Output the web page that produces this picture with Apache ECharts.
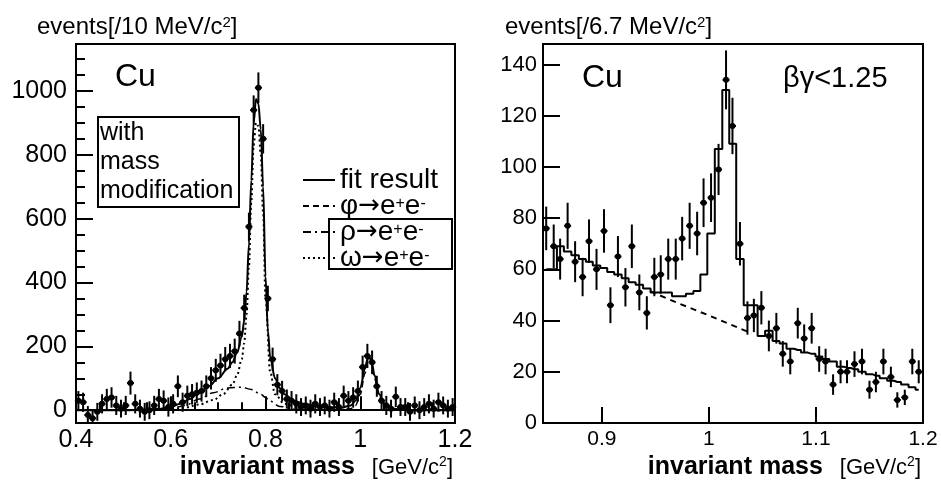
<!DOCTYPE html>
<html><head><meta charset="utf-8">
<script src="https://cdn.jsdelivr.net/npm/echarts@6/dist/echarts.min.js"></script>
<style>html,body{margin:0;padding:0;background:#fff}#c{width:941px;height:481px}</style>
</head><body><div id="c"></div>
<script>
// ---------- Left panel (Cu, with mass modification), 10 MeV bins ----------
const leftMass = [0.405,0.415,0.425,0.435,0.445,0.455,0.465,0.475,0.485,0.495,
  0.505,0.515,0.525,0.535,0.545,0.555,0.565,0.575,0.585,0.595,
  0.605,0.615,0.625,0.635,0.645,0.655,0.665,0.675,0.685,0.695,
  0.705,0.715,0.725,0.735,0.745,0.755,0.765,0.775,0.785,0.795,
  0.805,0.815,0.825,0.835,0.845,0.855,0.865,0.875,0.885,0.895,
  0.905,0.915,0.925,0.935,0.945,0.955,0.965,0.975,0.985,0.995,
  1.005,1.015,1.025,1.035,1.045,1.055,1.065,1.075,1.085,1.095,
  1.105,1.115,1.125,1.135,1.145,1.155,1.165,1.175,1.185,1.195];
const leftCounts = [30,25,-15,-25,-5,20,35,40,15,5,
  15,85,20,5,-5,0,15,35,30,10,
  20,75,25,45,50,55,60,75,100,125,
  140,160,170,185,240,320,575,940,1010,850,
  350,160,80,60,35,30,20,10,15,5,
  20,10,15,5,25,10,45,30,40,60,
  135,170,150,75,30,15,5,42,10,10,
  -5,15,0,10,20,5,25,15,5,10];
const leftErr = [30,30,28,28,28,30,32,32,30,28,
  30,36,30,28,28,28,30,32,32,30,
  30,34,30,32,32,32,33,34,35,36,
  37,38,38,39,40,42,44,46,48,46,
  40,36,33,32,30,30,30,28,28,28,
  30,28,28,28,30,28,32,30,32,33,
  36,38,37,33,30,30,28,32,28,28,
  28,28,28,28,30,28,30,28,28,28];

const fitMass = [0.40,0.45,0.50,0.55,0.58,0.60,0.62,0.64,0.66,0.68,0.70,0.72,0.73,0.74,0.75,0.755,0.76,0.765,0.77,0.775,0.78,0.785,0.79,0.795,0.80,0.805,0.81,0.82,0.83,0.84,0.86,0.88,0.92,0.96,0.98,0.99,1.00,1.01,1.015,1.02,1.025,1.03,1.04,1.05,1.07,1.10,1.20];
const fitVal  = [0,0,0,2,5,10,20,35,55,75,100,130,150,180,230,280,370,520,720,900,975,960,880,700,420,250,165,100,70,50,30,20,10,8,15,30,70,130,160,165,145,110,50,20,5,0,0];

const phiMass = [0.95,0.98,0.99,1.00,1.01,1.015,1.02,1.025,1.03,1.04,1.05,1.07,1.10,1.20];
const phiVal  = [0,5,15,50,115,150,160,140,100,40,12,3,0,0];

const rhoMass = [0.50,0.55,0.60,0.63,0.66,0.69,0.72,0.75,0.77,0.79,0.80,0.81,0.83,0.86,0.90];
const rhoVal  = [0,1,5,15,35,55,70,72,65,50,40,28,12,4,0];

const omegaMass = [0.55,0.60,0.63,0.66,0.69,0.71,0.73,0.74,0.75,0.755,0.76,0.765,0.77,0.775,0.78,0.785,0.79,0.795,0.80,0.81,0.82,0.84,0.87,0.90];
const omegaVal  = [0,3,8,18,32,50,80,110,160,210,300,450,650,830,900,890,800,620,350,120,50,20,8,3];

const leftYTicks = [0,200,400,600,800,1000];
const leftYMinor = [50,100,150,250,300,350,450,500,550,650,700,750,850,900,950,1050,1100];
const leftXTicks = [0.4,0.6,0.8,1.0,1.2];
const leftXMinor = [0.45,0.5,0.55,0.65,0.7,0.75,0.85,0.9,0.95,1.05,1.1,1.15];

// ---------- Right panel (Cu, βγ<1.25), 6.7 MeV bins ----------
const rightMass = [0.848,0.855,0.861,0.868,0.875,0.882,0.888,0.895,0.902,0.908,
  0.915,0.922,0.928,0.935,0.942,0.949,0.955,0.962,0.969,0.975,
  0.982,0.989,0.995,1.002,1.009,1.016,1.022,1.029,1.036,1.042,
  1.049,1.056,1.063,1.069,1.076,1.083,1.089,1.096,1.103,1.109,
  1.116,1.123,1.129,1.136,1.143,1.150,1.156,1.163,1.170,1.176,
  1.183,1.190,1.196];
const rightCounts = [76,69,64,77,63,57,71,60,75,46,
  65,53,69,51,43,57,58,64,64,72,
  77,74,86,88,99,134,116,70,41,42,
  45,34,37,27,24,39,33,37,25,24,
  15,20,20,23,24,13,16,24,18,9,
  10,24,20];
const rightErr = [8.5,8.5,8,9,8,7.5,8.5,8,8.5,7,
  8,7.5,8.5,7,6.5,7.5,7.5,8,8,8.5,
  9,8.5,9.5,9.5,10,11.5,11,8.5,6.5,6.5,
  6.5,6,6,5,5,6,5.5,6,5,5,
  4,4.5,4.5,5,5,3.5,4,5,4,3,
  3,5,4.5];
const rightFit = [60,60,69,67,65.5,64,63,61.5,60.5,59,
  58,56.5,55,54,52.5,51,51,51,49.5,49.5,
  50.5,51.5,58,74,107,130,109,64,46,46,
  34,36,32,31,29,28.5,27.5,27,26,25,
  24,22,21.5,21,20,19,18.5,17.5,16.5,16,
  15,14,13];
const bkgMass = [0.945,0.97,1.00,1.02,1.04];
const bkgVal  = [51.5,47,42,38.5,35];

const rightYTicks = [0,20,40,60,80,100,120,140];
const rightXTicks = [0.9,1.0,1.1,1.2];

// ---------------------------------------------------------------
const F = '"Liberation Sans", Arial, Helvetica, sans-serif';
const zip = (a, b) => a.map((v, i) => [v, b[i]]);
const zip3 = (a, b, c) => a.map((v, i) => [v, b[i], c[i]]);
const plain = v => String(v);

function errRender(params, api) {
  const cs = params.coordSys;
  const x = api.value(0), y = api.value(1), e = api.value(2);
  const p = api.coord([x, y]);
  let t = api.coord([x, y + e])[1], b = api.coord([x, y - e])[1];
  t = Math.max(t, cs.y); b = Math.min(b, cs.y + cs.height);
  const children = [];
  if (b > t) children.push({type: 'line', shape: {x1: p[0], y1: t, x2: p[0], y2: b}, style: {stroke: '#000', lineWidth: 2}});
  if (p[1] >= cs.y && p[1] <= cs.y + cs.height) {
    children.push({type: 'line', shape: {x1: p[0] - 3.5, y1: p[1], x2: p[0] + 3.5, y2: p[1]}, style: {stroke: '#000', lineWidth: 2}});
    children.push({type: 'circle', shape: {cx: p[0], cy: p[1], r: 3}, style: {fill: '#000'}});
  }
  return {type: 'group', children};
}

const supRich = {
  t: {fontFamily: F, fontSize: 28, color: '#000', lineHeight: 21},
  r: {fontFamily: '"DejaVu Sans", sans-serif', fontSize: 26, color: '#000', lineHeight: 21},
  s: {fontFamily: F, fontSize: 16, color: '#000', lineHeight: 16, verticalAlign: 'top'}
};
const nameRich = {
  a: {fontFamily: F, fontSize: 24, color: '#000'},
  s: {fontFamily: F, fontSize: 15, color: '#000', verticalAlign: 'top'},
  b: {fontFamily: F, fontSize: 25, fontWeight: 'bold', color: '#000', padding: [0, 17, 0, 0]},
  n: {fontFamily: F, fontSize: 22, color: '#000'},
  ns: {fontFamily: F, fontSize: 14, color: '#000', verticalAlign: 'top'}
};
const legendLabels = {
  'fit result': '{t|fit result}',
  'φ→e⁺e⁻': '{t|φ}{r|→}{t|e}{s|+}{t|e}{s|-}',
  'ρ→e⁺e⁻': '{t|ρ}{r|→}{t|e}{s|+}{t|e}{s|-}',
  'ω→e⁺e⁻': '{t|ω}{r|→}{t|e}{s|+}{t|e}{s|-}'
};
const xTitle = '{b|invariant mass}{n|[GeV/c}{ns|2}{n|]}';

const hidden = {axisLine: {show: false}, axisTick: {show: false}, axisLabel: {show: false}, splitLine: {show: false}};

const option = {
  animation: false,
  backgroundColor: '#fff',
  textStyle: {fontFamily: F, color: '#000'},
  grid: [
    {left: 76, top: 44, width: 379, height: 379, show: true, borderColor: '#000', borderWidth: 2, backgroundColor: 'transparent'},
    {left: 543, top: 44, width: 380, height: 379, show: true, borderColor: '#000', borderWidth: 2, backgroundColor: 'transparent'}
  ],
  xAxis: [
    {gridIndex: 0, type: 'value', min: 0.4, max: 1.2, position: 'bottom',
      axisLine: {show: false}, splitLine: {show: false},
      axisTick: {show: true, inside: true, length: 14, customValues: leftXTicks, lineStyle: {color: '#000', width: 2}},
      axisLabel: {customValues: leftXTicks, formatter: plain, fontFamily: F, fontSize: 25, color: '#000', margin: 5}},
    {gridIndex: 0, type: 'value', min: 0.4, max: 1.2, position: 'bottom',
      axisLine: {show: false}, splitLine: {show: false}, axisLabel: {show: false},
      axisTick: {show: true, inside: true, length: 8, customValues: leftXMinor, lineStyle: {color: '#000', width: 2}}},
    {gridIndex: 1, type: 'value', min: 0.845, max: 1.2, position: 'bottom',
      axisLine: {show: false}, splitLine: {show: false},
      axisTick: {show: true, inside: true, length: 16, customValues: rightXTicks, lineStyle: {color: '#000', width: 2}},
      axisLabel: {customValues: rightXTicks, formatter: plain, fontFamily: F, fontSize: 21, color: '#000', margin: 6}}
  ],
  yAxis: [
    {gridIndex: 0, type: 'value', min: -40, max: 1147, position: 'left',
      axisLine: {show: false}, splitLine: {show: false},
      axisTick: {show: true, inside: true, length: 17, customValues: leftYTicks, lineStyle: {color: '#000', width: 2}},
      axisLabel: {customValues: leftYTicks, formatter: plain, fontFamily: F, fontSize: 25, color: '#000', margin: 9}},
    {gridIndex: 0, type: 'value', min: -40, max: 1147, position: 'left',
      axisLine: {show: false}, splitLine: {show: false}, axisLabel: {show: false},
      axisTick: {show: true, inside: true, length: 9, customValues: leftYMinor, lineStyle: {color: '#000', width: 2}}},
    Object.assign({gridIndex: 0, type: 'value', min: -40, max: 1147, position: 'left', offset: 39,
      name: '{a|events[/10 MeV/c}{s|2}{a|]}', nameLocation: 'end', nameGap: 5,
      nameTextStyle: {align: 'left', verticalAlign: 'bottom', rich: nameRich}}, hidden),
    {gridIndex: 1, type: 'value', min: 0, max: 148, position: 'left',
      axisLine: {show: false}, splitLine: {show: false},
      axisTick: {show: true, inside: true, length: 17, customValues: rightYTicks, lineStyle: {color: '#000', width: 2}},
      axisLabel: {customValues: rightYTicks, formatter: plain, fontFamily: F, fontSize: 22, color: '#000', margin: 6}},
    Object.assign({gridIndex: 1, type: 'value', min: 0, max: 148, position: 'left', offset: 38,
      name: '{a|events[/6.7 MeV/c}{s|2}{a|]}', nameLocation: 'end', nameGap: 5,
      nameTextStyle: {align: 'left', verticalAlign: 'bottom', rich: nameRich}}, hidden)
  ],
  legend: {
    show: true, orient: 'vertical', left: 297, top: 161,
    itemWidth: 32, itemHeight: 14, itemGap: -2,
    data: ['fit result', 'φ→e⁺e⁻', 'ρ→e⁺e⁻', 'ω→e⁺e⁻'],
    formatter: name => legendLabels[name],
    itemStyle: {opacity: 0},
    textStyle: {fontFamily: F, fontSize: 28, color: '#000', lineHeight: 21, rich: supRich},
    selectedMode: false
  },
  graphic: [
    {type: 'text', left: 115, top: 61, style: {text: 'Cu', font: '32px ' + F, fill: '#000'}},
    {type: 'rect', shape: {x: 98, y: 117, width: 141, height: 90}, style: {fill: 'none', stroke: '#000', lineWidth: 2}},
    {type: 'text', left: 100, top: 119, style: {text: 'with\nmass\nmodification', font: '25px ' + F, fill: '#000', lineHeight: 29}},
    {type: 'rect', shape: {x: 329, y: 219, width: 123, height: 50}, style: {fill: 'none', stroke: '#000', lineWidth: 2}},
    {type: 'text', left: 582, top: 62, style: {text: 'Cu', font: '32px ' + F, fill: '#000'}},
    {type: 'text', left: 783, top: 64, style: {text: 'βγ<1.25', font: '29px ' + F, fill: '#000'}},
    {type: 'text', right: 488, top: 455, style: {text: xTitle, rich: nameRich}},
    {type: 'text', right: 20, top: 455, style: {text: xTitle, rich: nameRich}}
  ],
  series: [
    {name: 'fit result', type: 'line', xAxisIndex: 0, yAxisIndex: 0, data: zip(fitMass, fitVal),
      symbol: 'none', smooth: 0.35, smoothMonotone: 'x', lineStyle: {color: '#000', width: 2, type: 'solid'}, itemStyle: {color: '#000'}, z: 5,
      markLine: {silent: true, symbol: 'none', label: {show: false}, lineStyle: {color: '#000', width: 2, type: 'solid'}, data: [{yAxis: 0}]}},
    {name: 'φ→e⁺e⁻', type: 'line', xAxisIndex: 0, yAxisIndex: 0, data: zip(phiMass, phiVal),
      symbol: 'none', smooth: 0.35, smoothMonotone: 'x', lineStyle: {color: '#000', width: 1.5, type: [6, 4]}, itemStyle: {color: '#000'}},
    {name: 'ρ→e⁺e⁻', type: 'line', xAxisIndex: 0, yAxisIndex: 0, data: zip(rhoMass, rhoVal),
      symbol: 'none', smooth: 0.35, smoothMonotone: 'x', lineStyle: {color: '#000', width: 1.5, type: [8, 4, 2, 4]}, itemStyle: {color: '#000'}},
    {name: 'ω→e⁺e⁻', type: 'line', xAxisIndex: 0, yAxisIndex: 0, data: zip(omegaMass, omegaVal),
      symbol: 'none', smooth: 0.35, smoothMonotone: 'x', lineStyle: {color: '#000', width: 2, type: [2, 3]}, itemStyle: {color: '#000'}},
    {name: 'data (Cu)', type: 'custom', xAxisIndex: 0, yAxisIndex: 0, data: zip3(leftMass, leftCounts, leftErr),
      renderItem: errRender, encode: {x: 0, y: 1}, z: 6},
    {name: 'fit (βγ<1.25)', type: 'line', xAxisIndex: 2, yAxisIndex: 3, data: zip(rightMass, rightFit),
      step: 'middle', symbol: 'none', lineStyle: {color: '#000', width: 2}, itemStyle: {color: '#000'}},
    {name: 'background', type: 'line', xAxisIndex: 2, yAxisIndex: 3, data: zip(bkgMass, bkgVal),
      symbol: 'none', lineStyle: {color: '#000', width: 2, type: [6, 5]}, itemStyle: {color: '#000'}},
    {name: 'data (βγ<1.25)', type: 'custom', xAxisIndex: 2, yAxisIndex: 3, data: zip3(rightMass, rightCounts, rightErr),
      renderItem: errRender, encode: {x: 0, y: 1}, z: 6}
  ]
};
const chart = echarts.init(document.getElementById('c'), null, {renderer: 'canvas'});
chart.setOption(option);
</script></body></html>
